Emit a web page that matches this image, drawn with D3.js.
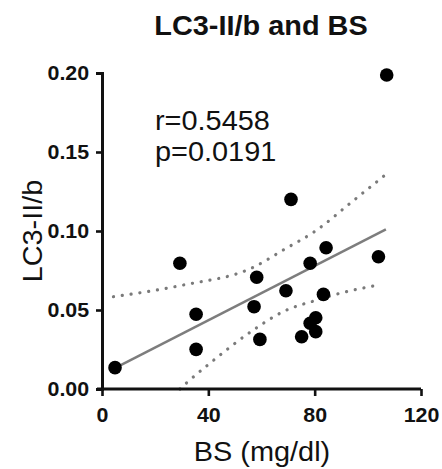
<!DOCTYPE html>
<html>
<head>
<meta charset="utf-8">
<script src="https://cdn.jsdelivr.net/npm/d3@7"></script>
<style>
  body { margin: 0; background: #fff; }
  svg { display: block; font-family: "Liberation Sans", Arial, sans-serif; }
</style>
</head>
<body>
<svg id="chart"></svg>
<script>
// data
const bs = [4.9, 29.3, 35.4, 35.4, 58.2, 57.2, 59.4, 69.2, 71.1, 75.1, 78.3, 78.3, 80.4, 80.4, 83.3, 84.3, 104, 107.1];
const lc3 = [0.0135, 0.0796, 0.0473, 0.0251, 0.0707, 0.0521, 0.0314, 0.0622, 0.120, 0.0331, 0.0796, 0.0416, 0.0451, 0.0363, 0.0599, 0.0894, 0.0837, 0.1987];

const fitX = [4.3, 106.8];
const fitY = [0.0128, 0.101];

const upperX = [4.3, 30.6, 56.9, 68.2, 80.8, 93.3, 106.5];
const upperY = [0.0584, 0.0658, 0.0770, 0.0880, 0.1006, 0.1175, 0.1354];
const lowerX = [29.3, 31.9, 40.6, 56.9, 68.2, 80.8, 89.5, 104];
const lowerY = [0.0, 0.004, 0.0163, 0.0373, 0.0490, 0.0563, 0.0606, 0.0658];

const xTicks = [0, 40, 80, 120];
const yTicks = [0, 0.05, 0.10, 0.15, 0.20];

const title = 'LC3-II/b and BS';
const xTitle = 'BS (mg/dl)';
const yTitle = 'LC3-II/b';
const statLines = ['r=0.5458', 'p=0.0191'];

let width = 442
let height = 469
let sx = 1.07 // text in the picture is a bit wide

let svg = d3.select('#chart').attr('width', width).attr('height', height)

let xScale = d3.scaleLinear().domain([0, 120]).range([102, 421])
let yScale = d3.scaleLinear().domain([0, 0.2]).range([389, 73])

// bands and fit line
let line = d3.line().x(d => xScale(d[0])).y(d => yScale(d[1])).curve(d3.curveMonotoneX)

let bandStyle = (sel) => sel
  .attr('fill', 'none')
  .attr('stroke', '#7a7a7a')
  .attr('stroke-width', 3.2)
  .attr('stroke-linecap', 'round')
  .attr('stroke-dasharray', '0.1 8.8')

svg.append('path')
  .datum(upperX.map((x, i) => [x, upperY[i]]))
  .attr('d', line)
  .call(bandStyle)

svg.append('path')
  .datum(lowerX.map((x, i) => [x, lowerY[i]]))
  .attr('d', line)
  .call(bandStyle)

svg.append('path')
  .datum(fitX.map((x, i) => [x, fitY[i]]))
  .attr('d', d3.line().x(d => xScale(d[0])).y(d => yScale(d[1])))
  .attr('fill', 'none')
  .attr('stroke', '#7d7d7d')
  .attr('stroke-width', 2.5)

// points
svg.selectAll('circle.pt')
  .data(bs.map((x, i) => [x, lc3[i]]))
  .enter()
  .append('circle')
  .attr('class', 'pt')
  .attr('cx', d => xScale(d[0]))
  .attr('cy', d => yScale(d[1]))
  .attr('r', 6.8)
  .attr('fill', '#000')

// axes
let xAxis = d3.axisBottom(xScale).tickValues(xTicks).tickSize(7).tickPadding(12).tickFormat(d3.format('d'))
let yAxis = d3.axisLeft(yScale).tickValues(yTicks).tickSize(6).tickPadding(6).tickFormat(d3.format('.2f'))

let gx = svg.append('g')
  .attr('transform', `translate(0, ${yScale(0)})`)
  .call(xAxis)
gx.select('.domain').attr('d', `M${xScale(0) - 5},0H${xScale(120)}`)

let gy = svg.append('g')
  .attr('transform', `translate(${xScale(0)}, 0)`)
  .call(yAxis)

;[gx, gy].forEach(g => {
  g.select('.domain').attr('stroke', '#111').attr('stroke-width', 3)
  g.selectAll('.tick line').attr('stroke', '#111').attr('stroke-width', 2.6)
  g.selectAll('.tick text')
    .attr('fill', '#111')
    .style('font-size', '20px')
    .style('font-weight', 'bold')
    .style('font-family', '"Liberation Sans", Arial, sans-serif')
    .attr('transform', `scale(${sx},1)`)
})

// texts
let addText = (txt, x, y, size, weight, anchor, rot) => {
  let g = svg.append('g').attr('transform', `translate(${x},${y})` + (rot ? ` rotate(${rot})` : '') + ` scale(${sx},1)`)
  g.append('text')
    .attr('text-anchor', anchor)
    .style('font-size', size + 'px')
    .style('font-weight', weight)
    .attr('fill', '#111')
    .text(txt)
}

addText(title, 261, 35, 27, 'bold', 'middle')
addText(xTitle, 262, 461, 27, 'normal', 'middle')
addText(yTitle, 42, 231, 27, 'normal', 'middle', -90)
addText(statLines[0], 155, 130, 27, 'normal', 'start')
addText(statLines[1], 155, 161, 27, 'normal', 'start')
</script>
</body>
</html>
